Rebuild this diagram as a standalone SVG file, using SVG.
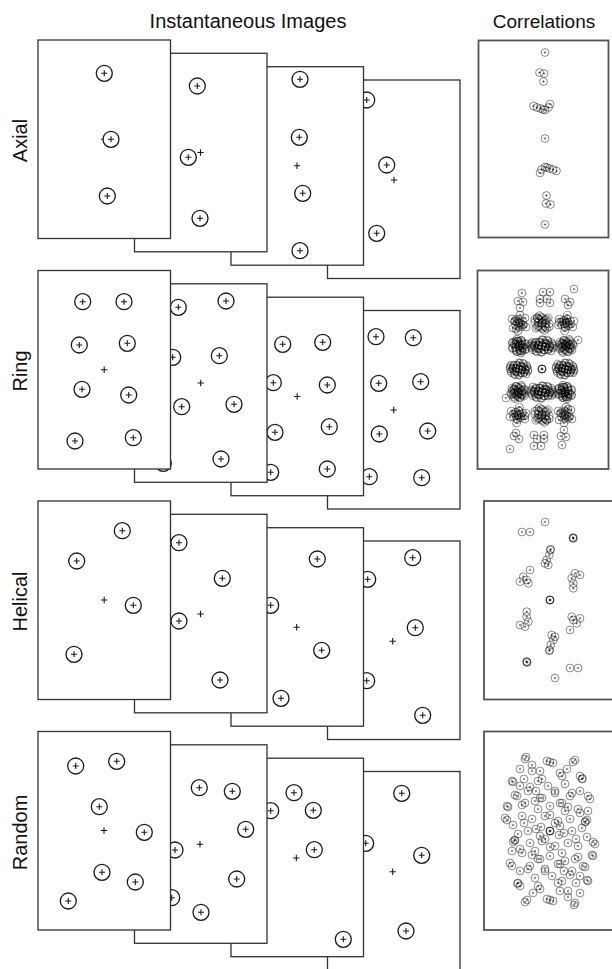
<svg xmlns="http://www.w3.org/2000/svg" width="612" height="969" viewBox="0 0 612 969">
<style>
.t{font-family:"Liberation Sans",Arial,Helvetica,sans-serif;fill:#111}
.f{fill:#fff;stroke:#333;stroke-width:1.3}
.pn{fill:#fff;stroke:#555;stroke-width:1.8}
.mc{fill:#fff;stroke:#1a1a1a;stroke-width:1.3}
.mp{fill:none;stroke:#1a1a1a;stroke-width:1.1}
.sc{fill:none;stroke:#000;stroke-opacity:.45;stroke-width:1}
</style>
<defs>
<g id="m"><circle class="mc" r="8"/><path class="mp" d="M-3 0H3M0-3V3"/></g>
<path id="c" class="mp" d="M-3.2 0H3.2M0-3.2V3.2"/>
<g id="p"><circle class="sc" r="3.9"/><path class="sc" d="M-1.3 0H1.3M0-1.3V1.3"/></g>
<g id="D"><use href="#p" x="0" y="0"/><use href="#p" x="3" y="-2"/><use href="#p" x="-3" y="2"/><use href="#p" x="5" y="1"/><use href="#p" x="-5" y="-1"/><use href="#p" x="2" y="4"/><use href="#p" x="-2" y="-4"/><use href="#p" x="6" y="-4"/><use href="#p" x="-6" y="4"/><use href="#p" x="1" y="-6"/><use href="#p" x="-1" y="6"/><use href="#p" x="4" y="4"/><use href="#p" x="-4" y="-4"/><use href="#p" x="7" y="1"/><use href="#p" x="-7" y="-1"/><use href="#p" x="0" y="-2"/></g>
<g id="W"><use href="#p" x="0" y="0"/><use href="#p" x="4" y="-2"/><use href="#p" x="-4" y="2"/><use href="#p" x="8" y="1"/><use href="#p" x="-8" y="-1"/><use href="#p" x="2" y="4"/><use href="#p" x="-2" y="-4"/><use href="#p" x="10" y="-2"/><use href="#p" x="-10" y="2"/><use href="#p" x="6" y="-5"/><use href="#p" x="-6" y="5"/><use href="#p" x="6" y="4"/><use href="#p" x="-6" y="-4"/><use href="#p" x="1" y="-6"/><use href="#p" x="-1" y="6"/><use href="#p" x="11" y="2"/><use href="#p" x="-11" y="-2"/><use href="#p" x="3" y="1"/><use href="#p" x="-3" y="-1"/><use href="#p" x="9" y="5"/></g>
<g id="M"><use href="#p" x="0" y="0"/><use href="#p" x="6" y="-5"/><use href="#p" x="-6" y="5"/><use href="#p" x="7" y="4"/><use href="#p" x="-7" y="-4"/><use href="#p" x="1" y="-8"/><use href="#p" x="-1" y="8"/><use href="#p" x="4" y="2"/><use href="#p" x="-4" y="-2"/><use href="#p" x="-3" y="6"/></g>
<g id="axh"><use href="#p" x="0" y="-86"/><use href="#p" x="-5.5" y="-66"/><use href="#p" x="-1" y="-65"/><use href="#p" x="-1.5" y="-57"/><use href="#p" x="-11.5" y="-32.5"/><use href="#p" x="-8" y="-31"/><use href="#p" x="-4.5" y="-30"/><use href="#p" x="0" y="-28.5"/><use href="#p" x="5" y="-34.5"/><use href="#p" x="3.5" y="-31"/><use href="#p" x="-2" y="-29"/></g>
<g id="rh">
<use href="#p" x="-20" y="-76"/><use href="#p" x="-24" y="-68"/><use href="#p" x="-19" y="-67"/><use href="#p" x="-22" y="-61"/><use href="#p" x="1" y="-77"/><use href="#p" x="8" y="-77"/><use href="#p" x="-2" y="-70"/><use href="#p" x="5" y="-70"/><use href="#p" x="8" y="-66"/><use href="#p" x="-2" y="-66"/><use href="#p" x="32" y="-80"/><use href="#p" x="23" y="-70"/><use href="#p" x="28" y="-67"/><use href="#p" x="26" y="-64"/>
<use href="#M" transform="translate(-23,-46)"/><use href="#D" transform="translate(-23,-46) rotate(50) scale(.8)"/><use href="#D" transform="translate(0,-46) rotate(40)"/><use href="#M" transform="translate(0,-46) rotate(110)"/><use href="#M" transform="translate(24,-46) rotate(70)"/><use href="#D" transform="translate(24,-46) rotate(10) scale(.8)"/>
<use href="#D" transform="translate(-23,-23) rotate(15)"/><use href="#D" transform="translate(-23,-23) rotate(65)"/><use href="#W" transform="translate(0,-23)"/><use href="#W" transform="translate(0,-23) rotate(170)"/><use href="#D" transform="translate(24,-23) rotate(-30)"/><use href="#D" transform="translate(24,-23) rotate(25)"/><use href="#p" x="36" y="-29"/>
<use href="#W" transform="translate(-23,0) scale(.85,1)"/><use href="#W" transform="translate(-23,0) rotate(170) scale(.85,1)"/>
</g>
<g id="hh"><use href="#p" x="-5" y="-78"/><use href="#p" x="-28" y="-68"/><use href="#p" x="-20" y="-68"/><use href="#p" x="23" y="-62"/><use href="#p" x="23.5" y="-61.5"/><use href="#p" x="23" y="-62.5"/><use href="#p" x="0.7" y="-50.7"/><use href="#p" x="0.3" y="-50"/><use href="#p" x="-0.7" y="-45"/><use href="#p" x="-3.3" y="-40"/><use href="#p" x="-5" y="-36.7"/><use href="#p" x="-1.7" y="-35"/><use href="#p" x="-20" y="-30"/><use href="#p" x="-26.7" y="-23.3"/><use href="#p" x="-23.3" y="-20"/><use href="#p" x="-30" y="-18.3"/><use href="#p" x="-21.7" y="-16.7"/><use href="#p" x="25" y="-26.7"/><use href="#p" x="30" y="-25"/><use href="#p" x="21.7" y="-21.7"/><use href="#p" x="23.3" y="-16.7"/><use href="#p" x="23.3" y="-11.7"/></g>
<g id="rdh"><use href="#p" x="-24" y="-74"/><use href="#p" x="-18" y="-66"/><use href="#p" x="-3" y="-70"/><use href="#p" x="3" y="-68"/><use href="#p" x="25" y="-71"/><use href="#p" x="-30" y="-62"/><use href="#p" x="-38" y="-50"/><use href="#p" x="-10" y="-60"/><use href="#p" x="10" y="-58"/><use href="#p" x="17" y="-62"/><use href="#p" x="30" y="-55"/><use href="#p" x="-20" y="-44"/><use href="#p" x="-2" y="-45"/><use href="#p" x="38" y="-35"/><use href="#p" x="-33" y="-35"/><use href="#p" x="-43" y="-25"/><use href="#p" x="-45" y="-13"/><use href="#p" x="-37" y="-6"/><use href="#p" x="37" y="-11"/><use href="#p" x="-35" y="9"/><use href="#p" x="-35.5" y="9.5"/><use href="#p" x="43" y="11"/><use href="#p" x="-40" y="32"/><use href="#p" x="42" y="24"/><use href="#p" x="-32" y="52"/><use href="#p" x="-32.5" y="52.5"/><use href="#p" x="37" y="49"/><use href="#p" x="-23" y="69"/><use href="#p" x="25" y="72"/><use href="#p" x="0" y="69"/><use href="#p" x="-12" y="-50"/><use href="#p" x="5" y="-40"/><use href="#p" x="15" y="-47"/><use href="#p" x="22" y="-38"/><use href="#p" x="-25" y="-28"/><use href="#p" x="-15" y="-30"/><use href="#p" x="0" y="-25"/><use href="#p" x="12" y="-28"/><use href="#p" x="28" y="-22"/><use href="#p" x="-28" y="-15"/><use href="#p" x="-18" y="-12"/><use href="#p" x="-5" y="-15"/><use href="#p" x="8" y="-10"/><use href="#p" x="20" y="-12"/><use href="#p" x="32" y="-3"/><use href="#p" x="-22" y="0"/><use href="#p" x="-10" y="5"/><use href="#p" x="14" y="2"/><use href="#p" x="26" y="8"/><use href="#p" x="-30" y="18"/><use href="#p" x="-15" y="20"/><use href="#p" x="0" y="16"/><use href="#p" x="12" y="22"/><use href="#p" x="28" y="26"/><use href="#p" x="-20" y="35"/><use href="#p" x="-5" y="38"/><use href="#p" x="10" y="33"/><use href="#p" x="22" y="40"/><use href="#p" x="-12" y="55"/><use href="#p" x="8" y="52"/><use href="#p" x="18" y="60"/><use href="#p" x="-8" y="-33"/><use href="#p" x="30" y="-40"/><use href="#p" x="-26" y="-52"/><use href="#p" x="5" y="-8"/><use href="#p" x="-9" y="-4"/><use href="#p" x="-14" y="-40"/><use href="#p" x="-30" y="-45"/><use href="#p" x="18" y="-24"/><use href="#p" x="-38" y="20"/><use href="#p" x="35" y="36"/><use href="#p" x="-10" y="28"/></g>
</defs>
<rect width="612" height="969" fill="#fff"/>
<text class="t" x="248" y="28" font-size="20" text-anchor="middle">Instantaneous Images</text>
<text class="t" x="544" y="28" font-size="19" text-anchor="middle">Correlations</text>
<text class="t" font-size="20" text-anchor="middle" transform="translate(26.5,140.5) rotate(-90)">Axial</text>
<text class="t" font-size="20" text-anchor="middle" transform="translate(26.5,371) rotate(-90)">Ring</text>
<text class="t" font-size="20" text-anchor="middle" transform="translate(26.5,601.5) rotate(-90)">Helical</text>
<text class="t" font-size="20" text-anchor="middle" transform="translate(26.5,832.5) rotate(-90)">Random</text>

<g id="axial-4"><rect class="f" x="327.5" y="80" width="132.5" height="198.5"/><use href="#c" x="394" y="180"/><use href="#m" x="366.7" y="100"/><use href="#m" x="386.7" y="165"/><use href="#m" x="376.7" y="233.3"/></g>
<g id="axial-3"><rect class="f" x="231" y="66.7" width="132.5" height="198.5"/><use href="#c" x="297" y="165.7"/><use href="#m" x="300" y="79.3"/><use href="#m" x="299.3" y="137.3"/><use href="#m" x="302.7" y="193.3"/><use href="#m" x="300" y="250.7"/></g>
<g id="axial-2"><rect class="f" x="134.5" y="53.3" width="132.5" height="198.5"/><use href="#c" x="200.5" y="152.5"/><use href="#m" x="197.3" y="86"/><use href="#m" x="188.3" y="157.3"/><use href="#m" x="200" y="218.3"/></g>
<g id="axial-1"><rect class="f" x="38" y="40" width="132.5" height="198.5"/><use href="#c" x="104.2" y="139.2"/><use href="#m" x="104.3" y="73.3"/><use href="#m" x="111" y="139.3"/><use href="#m" x="107.3" y="196"/></g>

<g id="ring-4"><rect class="f" x="327.5" y="310.5" width="132.5" height="198.5"/><use href="#c" x="393.7" y="410"/><use href="#m" x="376" y="336.7"/><use href="#m" x="413.3" y="337.7"/><use href="#m" x="378.7" y="383.3"/><use href="#m" x="420.7" y="381.7"/><use href="#m" x="379.3" y="434"/><use href="#m" x="427.7" y="431"/><use href="#m" x="369.3" y="476.7"/><use href="#m" x="421.7" y="477.7"/></g>
<g id="ring-3"><rect class="f" x="231" y="297.2" width="132.5" height="198.5"/><use href="#c" x="297.2" y="396.5"/><use href="#m" x="282.7" y="344.3"/><use href="#m" x="322.7" y="342.3"/><use href="#m" x="273.3" y="382.7"/><use href="#m" x="327.3" y="385"/><use href="#m" x="275" y="432.3"/><use href="#m" x="329.3" y="426.7"/><use href="#m" x="270.7" y="472.3"/><use href="#m" x="327.3" y="469"/></g>
<g id="ring-2"><rect class="f" x="134.5" y="283.8" width="132.5" height="198.5"/><use href="#c" x="200.7" y="383"/><use href="#m" x="178.3" y="307.3"/><use href="#m" x="226" y="301"/><use href="#m" x="172.7" y="357.3"/><use href="#m" x="219.3" y="355.7"/><use href="#m" x="181.7" y="406.7"/><use href="#m" x="234" y="404.3"/><use href="#m" x="221" y="459"/><use href="#m" x="163.3" y="463.3"/></g>
<g id="ring-1"><rect class="f" x="38" y="270.5" width="132.5" height="198.5"/><use href="#c" x="104.2" y="369.7"/><use href="#m" x="82.7" y="301.7"/><use href="#m" x="124" y="301.7"/><use href="#m" x="79.3" y="345"/><use href="#m" x="127.3" y="343.3"/><use href="#m" x="82" y="389.3"/><use href="#m" x="128.7" y="395"/><use href="#m" x="75" y="441"/><use href="#m" x="133.3" y="437.7"/></g>

<g id="helical-4"><rect class="f" x="327.5" y="541" width="132.5" height="198.5"/><use href="#c" x="392.7" y="641.3"/><use href="#m" x="412.7" y="557.7"/><use href="#m" x="367.7" y="579.3"/><use href="#m" x="415.3" y="627.7"/><use href="#m" x="366.7" y="680.7"/><use href="#m" x="422.7" y="715.3"/></g>
<g id="helical-3"><rect class="f" x="231" y="527.7" width="132.5" height="198.5"/><use href="#c" x="296.7" y="627.3"/><use href="#m" x="317.3" y="559"/><use href="#m" x="270.7" y="605.3"/><use href="#m" x="321.7" y="650.3"/><use href="#m" x="281" y="698.3"/></g>
<g id="helical-2"><rect class="f" x="134.5" y="514.3" width="132.5" height="198.5"/><use href="#c" x="200.5" y="614"/><use href="#m" x="179" y="542.7"/><use href="#m" x="222.3" y="578.3"/><use href="#m" x="179" y="621"/><use href="#m" x="220" y="680"/></g>
<g id="helical-1"><rect class="f" x="38" y="501" width="132.5" height="198.5"/><use href="#c" x="104.2" y="600"/><use href="#m" x="122.3" y="530.7"/><use href="#m" x="76.7" y="561"/><use href="#m" x="133.3" y="605.3"/><use href="#m" x="74" y="654.3"/></g>

<g id="random-4"><rect class="f" x="327.5" y="771.5" width="132.5" height="198.5"/><use href="#c" x="392.7" y="871.7"/><use href="#m" x="401.7" y="793.3"/><use href="#m" x="365.7" y="843.3"/><use href="#m" x="421.7" y="855.3"/><use href="#m" x="406" y="931"/></g>
<g id="random-3"><rect class="f" x="231" y="758.2" width="132.5" height="198.5"/><use href="#c" x="296.3" y="858"/><use href="#m" x="294" y="792.7"/><use href="#m" x="270.7" y="810.7"/><use href="#m" x="313.3" y="810.3"/><use href="#m" x="314.3" y="849.7"/><use href="#m" x="343.3" y="939.3"/></g>
<g id="random-2"><rect class="f" x="134.5" y="744.8" width="132.5" height="198.5"/><use href="#c" x="200" y="844.3"/><use href="#m" x="199.3" y="787.7"/><use href="#m" x="232.3" y="791.3"/><use href="#m" x="245.7" y="829.3"/><use href="#m" x="175" y="850"/><use href="#m" x="236.7" y="879"/><use href="#m" x="171.7" y="897.7"/><use href="#m" x="201" y="912.3"/></g>
<g id="random-1"><rect class="f" x="38" y="731.5" width="132.5" height="198.5"/><use href="#c" x="104" y="830.5"/><use href="#m" x="75.7" y="766"/><use href="#m" x="116.7" y="761.3"/><use href="#m" x="99.3" y="806.7"/><use href="#m" x="144.3" y="832.3"/><use href="#m" x="102" y="872.3"/><use href="#m" x="135.3" y="882"/><use href="#m" x="68.3" y="901"/></g>

<g id="corr-axial"><rect class="pn" x="478.5" y="40.5" width="130" height="197"/><use href="#axh" transform="translate(545,138.5)"/><use href="#axh" transform="translate(545,138.5) rotate(180)"/><use href="#p" x="545" y="138.5"/></g>
<g id="corr-ring"><rect class="pn" x="477.5" y="270.5" width="131" height="198.5"/><use href="#rh" transform="translate(542,369)"/><use href="#rh" transform="translate(542,369) rotate(180)"/><use href="#p" x="542" y="369"/><use href="#p" x="542" y="369"/><use href="#p" x="542" y="369"/></g>
<g id="corr-helical"><rect class="pn" x="484" y="501" width="132" height="198.5"/><use href="#hh" transform="translate(550,600)"/><use href="#hh" transform="translate(550,600) rotate(180)"/><use href="#p" x="550" y="600"/><use href="#p" x="550" y="600"/><use href="#p" x="550" y="600"/></g>
<g id="corr-random"><rect class="pn" x="484" y="731.5" width="132" height="198.5"/><use href="#rdh" transform="translate(550,831)"/><use href="#rdh" transform="translate(550,831) rotate(180)"/><use href="#p" x="550" y="831"/><use href="#p" x="550" y="831"/><use href="#p" x="550" y="831"/></g>
</svg>
